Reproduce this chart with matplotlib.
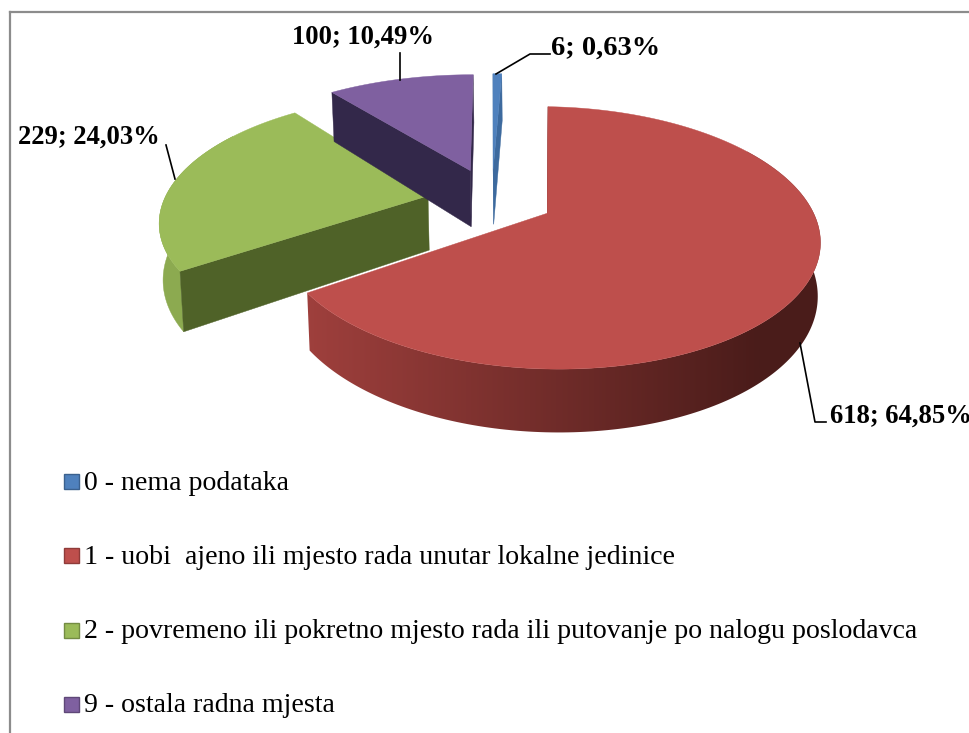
import numpy as np
import matplotlib
matplotlib.use('Agg')
import matplotlib.pyplot as plt
from matplotlib.patches import Polygon, Rectangle
from matplotlib.colors import to_rgb

categories = ['0 - nema podataka',
              '1 - uobi  ajeno ili mjesto rada unutar lokalne jedinice',
              '2 - povremeno ili pokretno mjesto rada ili putovanje po nalogu poslodavca',
              '9 - ostala radna mjesta']
values = [6, 618, 229, 100]
pct_labels = ['0,63%', '64,85%', '24,03%', '10,49%']

top_col = ['#4F81BD', '#BE4F4C', '#9BBB59', '#7F60A0']
cut_col = ['#3D6A9E', '#7A302E', '#4F6228', '#33284A']
wall_col = ['#3F6797', '#A0403D', '#8CAA50', '#66507F']

# projection of the pie plane to pixels
X0, Y0 = 492, 200
R, S, K, D = 272, 121.7, 0.184, 52
explode = 0.22
start = 0.0
# verticals lean towards this x going down
XC, LEAN = 549, 0.01
# per slice tweaks: x scale, x shift, y shift, depth scale
xscale = [1, 0.96, 0.97, 1]
xshift = [0, 4, -7, -3]
yshift = [-5, 0, 0, -5]
depth = [1.1, 0.97, 1.05, 1.12]


def proj(x, v, z, i):
    w = 1 + K*v
    sx = X0 + xshift[i] + R*x*xscale[i]/w
    return np.column_stack((XC + (sx-XC)*(1-LEAN*z),
                            Y0 + yshift[i] - S*v/w + D*depth[i]*z/w))


def mix(a, b, t):
    a, b = np.array(to_rgb(a)), np.array(to_rgb(b))
    return a + (b-a)*t


fig = plt.figure(figsize=(9.7, 7.33), dpi=100)
ax = fig.add_axes([0, 0, 1, 1])
ax.set_xlim(0, 970)
ax.set_ylim(733, 0)
ax.axis('off')

ax.plot([10.5, 10.5], [733, 12], color='#8C8C8C', lw=1.6)
ax.plot([10, 970], [12, 12], color='#8C8C8C', lw=1.6)

sweeps = 360*np.array(values)/sum(values)
ends = start + np.cumsum(sweeps)
starts = ends - sweeps

# back slices first
for i in [3, 0, 2, 1]:
    a = np.radians(np.linspace(starts[i], ends[i], max(int(sweeps[i]), 4)))
    mid = np.radians((starts[i]+ends[i])/2)
    cx, cv = explode*np.sin(mid), explode*np.cos(mid)
    x = cx + np.sin(a)
    v = cv + np.cos(a)
    top = proj(x, v, 0, i)
    bot = proj(x, v, 1, i)

    # outer wall, the far part ends up under the top face
    front = np.cos(a) < 0.55
    if front.any():
        wall = np.vstack((top[front], bot[front][::-1]))
        if i == 1:
            # red wall is shaded left to right
            t = np.linspace(0, 1, 300)[None, :, None]
            grad = mix('#A0403D', '#4A1C1A', t)
            im = ax.imshow(grad, extent=(300, 760, 733, 0), aspect='auto', zorder=i+2)
            left = Rectangle((760, 0), 210, 733, fc='#4A1C1A', ec='none', zorder=i+2)
            ax.add_patch(left)
            clip = Polygon(wall, transform=ax.transData)
            im.set_clip_path(clip)
            left.set_clip_path(clip)
            ax.set_xlim(0, 970)
            ax.set_ylim(733, 0)
        else:
            ax.add_patch(Polygon(wall, fc=wall_col[i], ec=wall_col[i], lw=0.3, zorder=i+2))

    # cut faces, skipped when they point away
    apex = proj(np.array([cx]), np.array([cv]), 0, i)[0]
    apex_b = proj(np.array([cx]), np.array([cv]), 1, i)[0]
    inner = top[len(a)//2]
    for j in [0, -1]:
        ex, ey = top[j] - apex
        side = ex*(inner[1]-apex[1]) - ey*(inner[0]-apex[0])
        if side*ex < 0 or abs(ex) < 15:
            ax.add_patch(Polygon([apex, top[j], bot[j], apex_b], fc=cut_col[i], ec=cut_col[i],
                                 lw=0.3, zorder=i+2))

    # top face
    ax.add_patch(Polygon(np.vstack((apex, top)), fc=top_col[i], ec=top_col[i], lw=0.3, zorder=i+2.5))

# data labels and leader lines
lab = dict(family='Liberation Serif', weight='bold', fontsize=19.2, color='black', zorder=20, va='baseline')
ax.text(551, 55, '%d; %s' % (values[0], pct_labels[0]), **{**lab, 'fontsize': 20.5})
ax.text(830, 423, '%d; %s' % (values[1], pct_labels[1]), **lab)
ax.text(18, 144, '%d; %s' % (values[2], pct_labels[2]), **lab)
ax.text(292, 44, '%d; %s' % (values[3], pct_labels[3]), **lab)
ax.plot([496, 530, 550], [74, 54, 54], color='k', lw=1.2, zorder=20)
ax.plot([800, 815, 826], [343, 422, 422], color='k', lw=1.2, zorder=20)
ax.plot([166, 175], [145, 179], color='k', lw=1.2, zorder=20)
ax.plot([400, 400], [53, 80], color='k', lw=1.2, zorder=20)

# legend
leg_y = [481.5, 555.5, 630, 704]
for name, c, y in zip(categories, top_col, leg_y):
    ax.add_patch(Rectangle((64, y-7.5), 15, 15, fc=c, ec=mix(c, '#000000', 0.25), lw=1))
    ax.text(84, y+8, name, family='Liberation Serif', fontsize=20.1, color='black', va='baseline')

fig.savefig('out.png', dpi=100)
